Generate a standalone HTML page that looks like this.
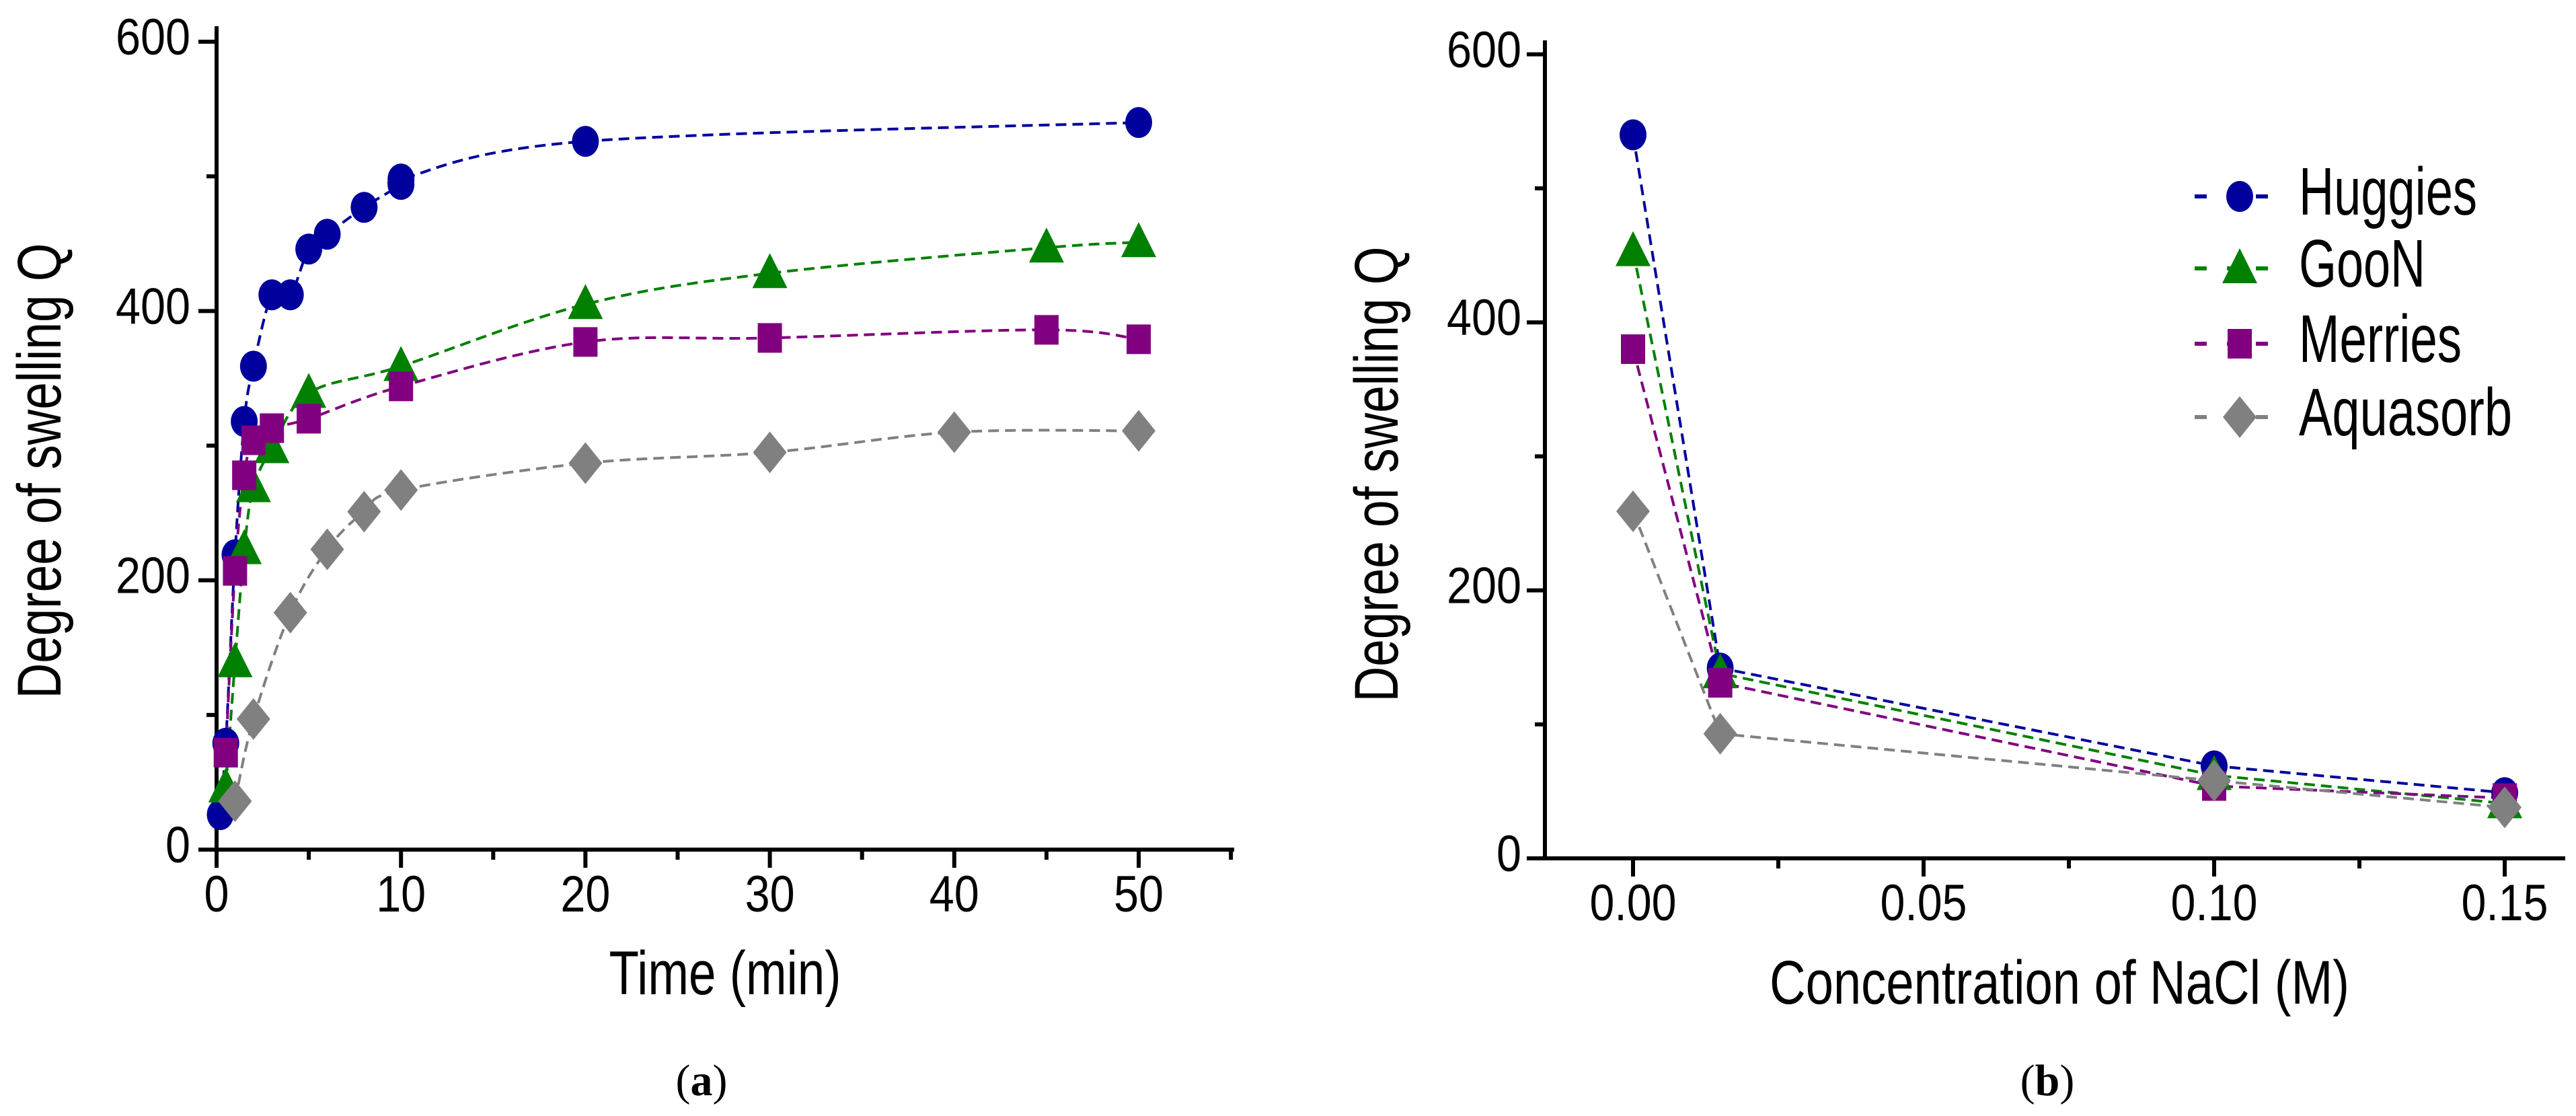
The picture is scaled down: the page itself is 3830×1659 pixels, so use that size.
<!DOCTYPE html>
<html><head><meta charset="utf-8"><style>
html,body{margin:0;padding:0;background:#fff;}
svg{display:block;}
text{font-family:"Liberation Sans",sans-serif;fill:#000;}
</style></head>
<body>
<svg id="chart" width="3830" height="1659" viewBox="0 0 3830 1659" xmlns="http://www.w3.org/2000/svg">
<text x="1043" y="1628" font-family="Liberation Serif, serif" font-size="66" text-anchor="middle" style="font-family:'Liberation Serif',serif">(<tspan font-weight="bold">a</tspan>)</text>
<text x="3044" y="1628" font-size="66" text-anchor="middle" style="font-family:'Liberation Serif',serif">(<tspan font-weight="bold">b</tspan>)</text>
</svg>
<script>
// ---- Panel A data ----
const timeA_huggies = [0.2,0.5,1,1.5,2,3,4,5,6,8,10,10,20,50];
const valA_huggies  = [26,79,219,318,359,412,412,446,457,477,494,498,526,540];
const timeA_goon = [0.5,1,1.5,2,3,5,10,20,30,45,50];
const valA_goon  = [46,139,223,269,298,339,359,405,428,447,451];
const timeA_merries = [0.5,1,1.5,2,3,5,10,20,30,45,50];
const valA_merries  = [72,207,278,304,313,320,344,377,380,386,379];
const timeA_aquasorb = [1,2,4,6,8,10,20,30,40,50];
const valA_aquasorb  = [36,97,176,223,251,267,287,295,310,311];
const xTicksA = [0,10,20,30,40,50];
const xMinorA = [5,15,25,35,45,55];
const yTicks = [0,200,400,600];
const yMinor = [100,300,500];
// ---- Panel B data ----
const concB = [0,0.015,0.1,0.15];
const valB_huggies = [540,142,69,49];
const valB_goon = [453,138,62,41];
const valB_merries = [380,131,54,45];
const valB_aquasorb = [259,93,58,38];
const xTicksB = [0,0.05,0.10,0.15];
const xTickLabelsB = ["0.00","0.05","0.10","0.15"];
const xMinorB = [0.025,0.075,0.125];
const seriesNames = ["Huggies","GooN","Merries","Aquasorb"];

const NS="http://www.w3.org/2000/svg";
const svg=document.getElementById('chart');
function mk(tag,attrs,parent){const e=document.createElementNS(NS,tag);for(const k in attrs)e.setAttribute(k,attrs[k]);(parent||svg).appendChild(e);return e;}
const colors={Huggies:"#00009c",GooN:"#008000",Merries:"#800080",Aquasorb:"#808080"};
const shapes={Huggies:"circle",GooN:"triangle",Merries:"square",Aquasorb:"diamond"};

// axes functions
const xA=v=>322+v*27.42;
const yA=v=>1263-v*2.0017;
const xB=v=>2428+v*(1296/0.15);
const yB=v=>1276-v*1.992;

function tw(s){let w=0;for(const c of s){w+= (c==='.')?18:37;}return w;}

function marker(g,shape,cx,cy,color,name){
  let e;
  if(shape==="circle") e=mk('ellipse',{cx:cx,cy:cy,rx:20,ry:23,fill:color},g);
  else if(shape==="triangle") e=mk('polygon',{points:`${cx},${cy-30} ${cx-26},${cy+22} ${cx+26},${cy+22}`,fill:color},g);
  else if(shape==="square") e=mk('rect',{x:cx-18,y:cy-22,width:36,height:44,fill:color},g);
  else e=mk('polygon',{points:`${cx},${cy-31} ${cx+25},${cy} ${cx},${cy+31} ${cx-25},${cy}`,fill:color},g);
  
  
  return e;
}

function smoothPath(pts){
  let d=`M${pts[0][0]},${pts[0][1]}`;
  for(let i=0;i<pts.length-1;i++){
    const p0=pts[Math.max(0,i-1)],p1=pts[i],p2=pts[i+1],p3=pts[Math.min(pts.length-1,i+2)];
    const c1=[p1[0]+(p2[0]-p0[0])/6,p1[1]+(p2[1]-p0[1])/6];
    const c2=[p2[0]-(p3[0]-p1[0])/6,p2[1]-(p3[1]-p1[1])/6];
    d+=` C${c1[0]},${c1[1]} ${c2[0]},${c2[1]} ${p2[0]},${p2[1]}`;
  }
  return d;
}

function drawAxes(prefix,axX0,axX1,axY0,axY1,xf,yf,xt,xtl,xm,labRight,xLabBase){
  const g=mk('g',{});
  
  
  const ya=mk('line',{x1:axX0,y1:axY1,x2:axX0,y2:axY0+3,stroke:'#000','stroke-width':6},g);
  
  
  const xa=mk('line',{x1:axX0-3,y1:axY0,x2:axX1,y2:axY0,stroke:'#000','stroke-width':6},g);
  
  
  yTicks.forEach(v=>{
    const y=yf(v);
    const t=mk('line',{x1:axX0-27,y1:y,x2:axX0,y2:y,stroke:'#000','stroke-width':6},g);
    
    
    const s=String(v);
    const l=mk('text',{x:labRight,y:y+19,'font-size':76,'text-anchor':'end',textLength:tw(s),lengthAdjust:'spacingAndGlyphs'},g);
    l.textContent=s;
    
    
  });
  yMinor.forEach(v=>{
    const y=yf(v);
    const t=mk('line',{x1:axX0-15,y1:y,x2:axX0,y2:y,stroke:'#000','stroke-width':6},g);
    
    
  });
  xt.forEach((v,i)=>{
    const x=xf(v);
    const t=mk('line',{x1:x,y1:axY0,x2:x,y2:axY0+27,stroke:'#000','stroke-width':6},g);
    
    
    const s=xtl[i];
    const l=mk('text',{x:x,y:xLabBase,'font-size':76,'text-anchor':'middle',textLength:tw(s),lengthAdjust:'spacingAndGlyphs'},g);
    l.textContent=s;
    
    
  });
  xm.forEach(v=>{
    const x=xf(v);
    const t=mk('line',{x1:x,y1:axY0,x2:x,y2:axY0+15,stroke:'#000','stroke-width':6},g);
    
    
  });
}

// Panel A
drawAxes('panel-a',322,1835,1263,39,xA,yA,xTicksA,xTicksA.map(String),xMinorA,283,1355);
const aData=[[timeA_huggies,valA_huggies],[timeA_goon,valA_goon],[timeA_merries,valA_merries],[timeA_aquasorb,valA_aquasorb]];
aData.forEach((s,k)=>{
  const n=seriesNames[k];
  const pts=s[0].map((t,i)=>[xA(t),yA(s[1][i])]);
  const g=mk('g',{});
  
  
  const p=mk('path',{d:smoothPath(pts),fill:'none',stroke:colors[n],'stroke-width':4,'stroke-dasharray':'16 9'},g);
  
  
});
aData.forEach((s,k)=>{
  const n=seriesNames[k];
  const g=mk('g',{});
  
  
  s[0].forEach((t,i)=>marker(g,shapes[n],xA(t),yA(s[1][i]),colors[n],'panel-a-point-'+n.toLowerCase()));
});
let t1=mk('text',{x:1078,y:1478,'font-size':92,'text-anchor':'middle',textLength:345,lengthAdjust:'spacingAndGlyphs'});
t1.textContent='Time (min)';


let t2=mk('text',{x:0,y:0,'font-size':92,'text-anchor':'middle',textLength:677,lengthAdjust:'spacingAndGlyphs',transform:'translate(90,700) rotate(-90)'});
t2.textContent='Degree of swelling Q';



// Panel B
drawAxes('panel-b',2297,3814,1276,60,xB,yB,xTicksB,xTickLabelsB,xMinorB,2262,1368);
const bData=[valB_huggies,valB_goon,valB_merries,valB_aquasorb];
bData.forEach((vals,k)=>{
  const n=seriesNames[k];
  const g=mk('g',{});
  
  
  const pts=concB.map((c,i)=>`${xB(c)},${yB(vals[i])}`).join(' ');
  const p=mk('polyline',{points:pts,fill:'none',stroke:colors[n],'stroke-width':4,'stroke-dasharray':'16 9'},g);
  
  
});
bData.forEach((vals,k)=>{
  const n=seriesNames[k];
  const g=mk('g',{});
  
  
  concB.forEach((c,i)=>marker(g,shapes[n],xB(c),yB(vals[i]),colors[n],'panel-b-point-'+n.toLowerCase()));
});
let t3=mk('text',{x:3062,y:1492,'font-size':92,'text-anchor':'middle',textLength:862,lengthAdjust:'spacingAndGlyphs'});
t3.textContent='Concentration of NaCl (M)';


let t4=mk('text',{x:0,y:0,'font-size':92,'text-anchor':'middle',textLength:677,lengthAdjust:'spacingAndGlyphs',transform:'translate(2078,705) rotate(-90)'});
t4.textContent='Degree of swelling Q';



// Legend
const legY=[292,399,511,620];
const legW=[265,188,242,317];
const lg=mk('g',{});


seriesNames.forEach((n,i)=>{
  const e=mk('g',{},lg);
  
  
  mk('line',{x1:3263,y1:legY[i],x2:3372,y2:legY[i],stroke:colors[n],'stroke-width':6,'stroke-dasharray':'18 30'},e);
  mk('line',{x1:3354,y1:legY[i],x2:3372,y2:legY[i],stroke:colors[n],'stroke-width':6},e);
  marker(e,shapes[n],3330,legY[i],colors[n],'legend-marker-'+n.toLowerCase());
  const t=mk('text',{x:3418,y:legY[i]+27,'font-size':100,textLength:legW[i],lengthAdjust:'spacingAndGlyphs'},e);
  t.textContent=n;
  
  
});
</script>
</body></html>
